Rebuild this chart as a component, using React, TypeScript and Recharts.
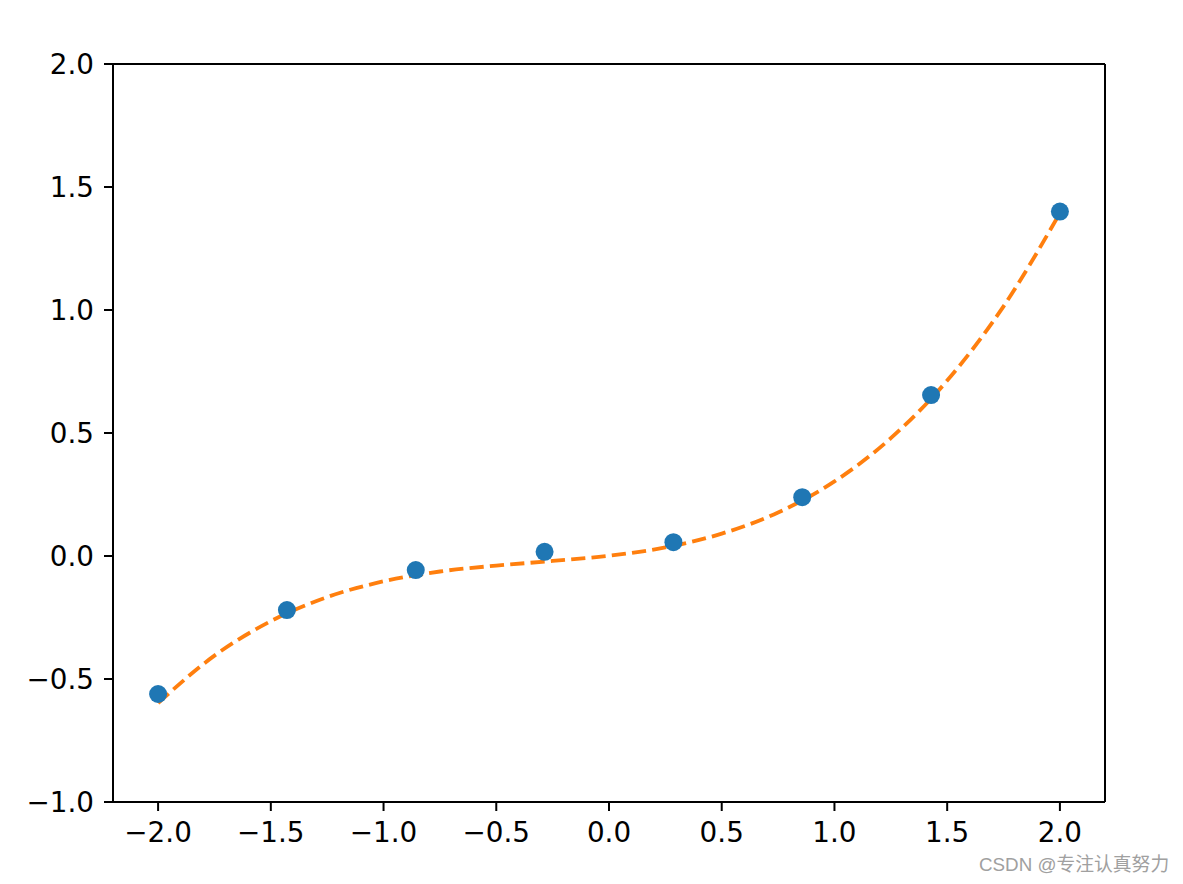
import React from 'react';
import { ComposedChart, Line, Scatter, XAxis, YAxis, ReferenceLine } from 'recharts';

const sampleX = [-2, -1.4286, -0.8571, -0.2857, 0.2857, 0.8571, 1.4286, 2];
const sampleY = [-0.561, -0.22, -0.057, 0.017, 0.056, 0.239, 0.654, 1.4];

const fitX = [-2, -1.75, -1.5, -1.25, -1, -0.75, -0.5, -0.25, 0, 0.25, 0.5, 0.75, 1, 1.25, 1.5, 1.75, 2];
const fitY = [-0.598, -0.405, -0.265, -0.167, -0.103, -0.063, -0.039, -0.02, 0.001, 0.035, 0.091, 0.177, 0.303, 0.479, 0.713, 1.015, 1.394];

const xTicks = [-2, -1.5, -1, -0.5, 0, 0.5, 1, 1.5, 2];
const yTicks = [-1, -0.5, 0, 0.5, 1, 1.5, 2];

const scatterData = sampleX.map((x, i) => ({ x, y: sampleY[i] }));
const fitData = fitX.map((x, i) => ({ x, y: fitY[i] }));

const fmt = (v: number) => {
  const s = Math.abs(v).toFixed(1);
  return v < 0 ? '\u2212' + s : s;
};

const tickStyle = { fill: '#000', fontSize: 27.8, fontFamily: 'DejaVu Sans' };

export default function App() {
  return (
    <div style={{ position: 'absolute', left: 0, top: 0, width: 1183, height: 884, background: '#fff' }}>
      <ComposedChart width={1183} height={884} margin={{ top: 64, right: 78, bottom: 0, left: 0 }}>
        <XAxis
          type="number"
          dataKey="x"
          domain={[-2.2, 2.2]}
          ticks={xTicks}
          tickFormatter={fmt}
          allowDataOverflow
          height={82}
          tickSize={9}
          tickMargin={11}
          axisLine={{ stroke: '#000', strokeWidth: 2 }}
          tickLine={{ stroke: '#000', strokeWidth: 2 }}
          tick={tickStyle}
        />
        <YAxis
          type="number"
          dataKey="y"
          domain={[-1, 2]}
          ticks={yTicks}
          tickFormatter={fmt}
          allowDataOverflow
          width={113}
          tickSize={9}
          tickMargin={10}
          axisLine={{ stroke: '#000', strokeWidth: 2 }}
          tickLine={{ stroke: '#000', strokeWidth: 2 }}
          tick={tickStyle}
        />
        <ReferenceLine y={2} stroke="#000" strokeWidth={2} />
        <ReferenceLine x={2.2} stroke="#000" strokeWidth={2} />
        <Scatter
          data={scatterData}
          dataKey="y"
          isAnimationActive={false}
          shape={(p: any) => <circle cx={p.cx} cy={p.cy} r={9} fill="#1f77b4" />}
        />
        <Line
          data={fitData}
          dataKey="y"
          type="monotone"
          stroke="#ff7f0e"
          strokeWidth={3.85}
          strokeDasharray="14.2 6.2"
          dot={false}
          activeDot={false}
          isAnimationActive={false}
        />
      </ComposedChart>
      <div
        style={{
          position: 'absolute',
          left: 979,
          top: 853,
          fontSize: 18.8,
          color: '#a0a0a0',
          fontFamily: 'Liberation Sans, Noto Sans CJK SC, sans-serif',
          whiteSpace: 'nowrap',
          lineHeight: '24px',
        }}
      >
        CSDN @专注认真努力
      </div>
    </div>
  );
}
